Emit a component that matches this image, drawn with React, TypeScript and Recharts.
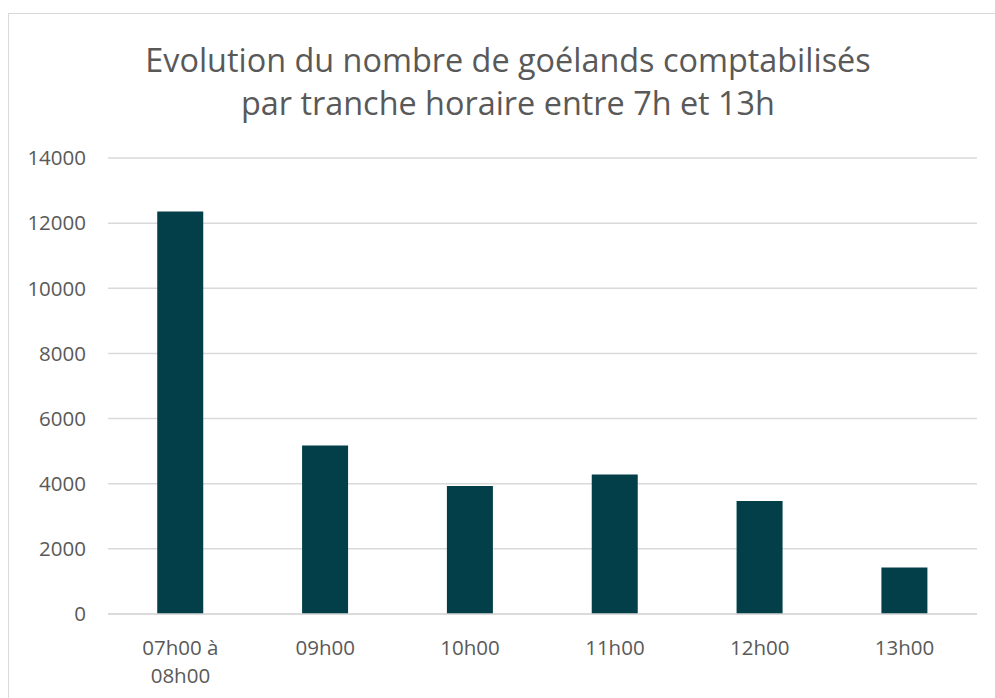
import React from "react"
import { BarChart, Bar, XAxis, YAxis, CartesianGrid, Text } from "recharts"

const categories = ["07h00 à 08h00", "09h00", "10h00", "11h00", "12h00", "13h00"]
const counts = [12360, 5170, 3930, 4280, 3470, 1430]
const yTicks = [0, 2000, 4000, 6000, 8000, 10000, 12000, 14000]

const data = categories.map((c, i) => ({ slot: c, count: counts[i] }))

const FONT = "'Open Sans', 'Noto Sans', sans-serif"
const TEXT = "#595959"

function XTick(props: any) {
  const { x, y, payload } = props
  return (
    <Text
      x={x}
      y={y + 18}
      width={90}
      textAnchor="middle"
      verticalAnchor="start"
      lineHeight={28}
      fill={TEXT}
      fontSize={20.5}
      fontFamily={FONT}
    >
      {payload.value}
    </Text>
  )
}

export default function App() {
  return (
    <div style={{ position: "fixed", left: 0, top: 0, width: 995, height: 698, background: "#fff", overflow: "hidden" }}>
      {/* frame */}
      <div
        style={{
          position: "absolute",
          left: 8,
          top: 13,
          width: 1010,
          height: 710,
          border: "1.5px solid #d9d9d9",
        }}
      />
      {/* title */}
      <div
        style={{
          position: "absolute",
          left: 8,
          top: 38,
          width: 1000,
          textAlign: "center",
          fontFamily: FONT,
          fontSize: 32.4,
          lineHeight: "43px",
          color: TEXT,
        }}
      >
        Evolution du nombre de goélands comptabilisés
        <br />
        par tranche horaire entre 7h et 13h
      </div>
      <div style={{ position: "absolute", left: 0, top: 0 }}>
        <BarChart
          width={995}
          height={698}
          data={data}
          margin={{ top: 158, right: 18, bottom: 54, left: 8 }}
          barCategoryGap="34%"
        >
          <CartesianGrid vertical={false} stroke="#d9d9d9" strokeWidth={1.5} />
          <XAxis
            dataKey="slot"
            axisLine={{ stroke: "#d9d9d9", strokeWidth: 1.5 }}
            tickLine={false}
            interval={0}
            tick={<XTick />}
          />
          <YAxis
            width={100}
            domain={[0, 14000]}
            ticks={yTicks}
            axisLine={false}
            tickLine={false}
            tickMargin={16}
            tick={{ fill: TEXT, fontSize: 20.5, fontFamily: FONT }}
          />
          <Bar dataKey="count" fill="#023f48" isAnimationActive={false} />
        </BarChart>
      </div>
    </div>
  )
}
